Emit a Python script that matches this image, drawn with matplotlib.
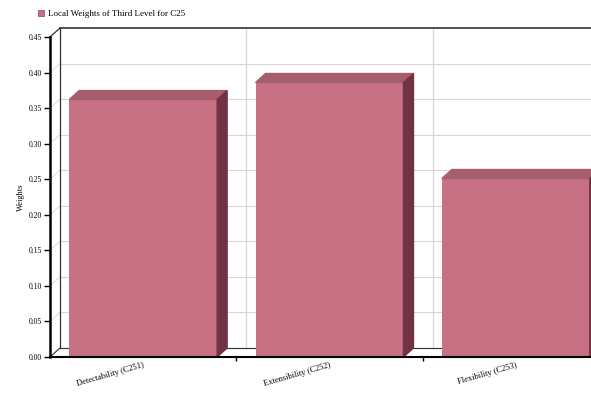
import numpy as np
import matplotlib.pyplot as plt
import matplotlib.patches as mpatches

categories = ["Detectability (C251)", "Extensibility (C252)", "Flexibility (C253)"]
weights = [0.362, 0.386, 0.251]
y_ticks = [0.00, 0.05, 0.10, 0.15, 0.20, 0.25, 0.30, 0.35, 0.40, 0.45]
series_name = "Local Weights of Third Level for C25"

front = "#c87084"
top = "#a65d6d"
side = "#703343"
serif = "Liberation Serif"

W, H = 591, 397
fig = plt.figure(figsize=(W / 100, H / 100), dpi=100)
# plot area: left 50px, baseline 357px from top, 320px tall, runs off the right edge
ax_w, ax_h = 559, 320
ax = fig.add_axes([50 / W, 40 / H, ax_w / W, ax_h / H])
ax.patch.set_visible(False)

x = np.arange(len(categories))
xmin, xmax = -0.5, 2.5
ymax = 0.45
ax.set_xlim(xmin, xmax)
ax.set_ylim(0, ymax)

# 3d depth offset (10px right, 9px up) in data units
dx = 10 * (xmax - xmin) / ax_w
dy = 9 * ymax / ax_h

grid = "#d6d6d6"
# back wall gridlines
for t in y_ticks[:-1]:
    ax.plot([xmin + dx, xmax + dx], [t + dy, t + dy], color=grid, lw=0.8, zorder=1, clip_on=False)
    ax.plot([xmin, xmin + dx], [t, t + dy], color=grid, lw=0.6, zorder=1, clip_on=False)
for g in [0.5, 1.5]:
    ax.plot([g + dx, g + dx], [dy, ymax + dy], color=grid, lw=0.9, zorder=1, clip_on=False)

# wall outline
edge = "#333333"
ax.plot([xmin + dx, xmin + dx], [dy, ymax + dy], color=edge, lw=0.9, zorder=2, clip_on=False)
ax.plot([xmin + dx, xmax + dx], [ymax + dy, ymax + dy], color=edge, lw=1.2, zorder=2, clip_on=False)
ax.plot([xmin + dx, xmax + dx], [dy, dy], color=edge, lw=0.8, zorder=2, clip_on=False)
ax.plot([xmin, xmin + dx], [ymax, ymax + dy], color=edge, lw=0.9, zorder=2, clip_on=False)
ax.plot([xmin, xmin + dx], [0, dy], color=edge, lw=0.8, zorder=2, clip_on=False)

# bars: front face plus top and side faces
bw = 0.794
ax.bar(x, weights, bw, color=front, zorder=4)
for xi, v in zip(x, weights):
    x0, x1 = xi - bw / 2, xi + bw / 2
    ax.add_patch(mpatches.Polygon([(x0, v), (x0 + dx, v + dy), (x1 + dx, v + dy), (x1, v)],
                                  closed=True, color=top, zorder=4, clip_on=False))
    ax.add_patch(mpatches.Polygon([(x1, 0), (x1 + dx, dy), (x1 + dx, v + dy), (x1, v)],
                                  closed=True, color=side, zorder=4, clip_on=False))

for s in ["top", "right"]:
    ax.spines[s].set_visible(False)
ax.spines["left"].set_linewidth(1.8)
ax.spines["bottom"].set_linewidth(1.5)
ax.spines["left"].set_zorder(5)
ax.spines["bottom"].set_zorder(5)

ax.set_yticks(y_ticks)
ax.set_yticklabels(["%.2f" % t for t in y_ticks], fontsize=5.5, family=serif)
ax.tick_params(axis="y", direction="out", length=4, width=1, pad=1.5)

ax.set_xticks(x)
ax.set_xticklabels(categories, fontsize=6, family=serif, rotation=16,
                   ha="right", va="top", rotation_mode="anchor")
ax.tick_params(axis="x", which="major", length=0, pad=3)
ax.set_xticks([0.5, 1.5], minor=True)
ax.tick_params(axis="x", which="minor", direction="out", length=3, width=1)

ax.set_ylabel("Weights", fontsize=6, family=serif, labelpad=3)

patch = mpatches.Patch(facecolor=front, edgecolor="#8a4050", linewidth=0.5, label=series_name)
fig.legend(handles=[patch], loc="upper left", bbox_to_anchor=(34 / W, 1 - 6 / H),
           frameon=False, prop={"family": serif, "size": 6.5},
           handlelength=0.7, handleheight=0.7, handletextpad=0.4, borderaxespad=0)

fig.savefig("out.png", dpi=100)
